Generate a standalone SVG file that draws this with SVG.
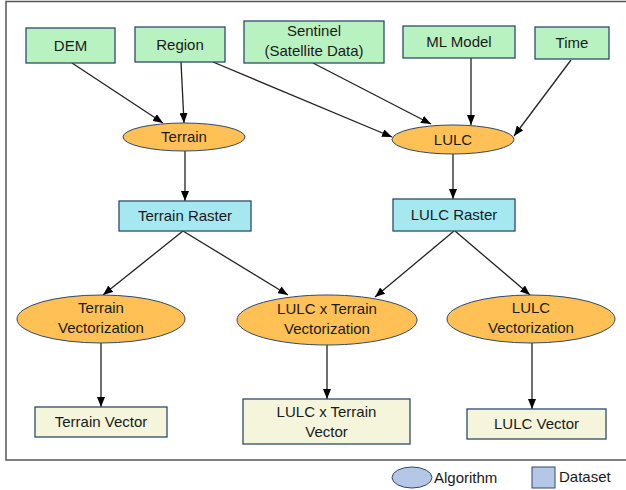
<svg xmlns="http://www.w3.org/2000/svg" width="626" height="490" viewBox="0 0 626 490">
<defs>
<marker id="ah" markerWidth="10" markerHeight="8" refX="10" refY="4" orient="auto" markerUnits="userSpaceOnUse">
<path d="M0,0 L10,4 L0,8 Z" fill="#000"/>
</marker>
<style>
text{font-family:"Liberation Sans",Arial,sans-serif;font-size:15px;fill:#1a1a1a;text-anchor:middle}
.in{fill:#B9F2C1;stroke:#2F4A6E;stroke-width:1.3}
.alg{fill:#FFC155;stroke:#2F4A6E;stroke-width:1}
.ras{fill:#A6E8F0;stroke:#2F4A6E;stroke-width:1.3}
.vec{fill:#F5F5DC;stroke:#2F4A6E;stroke-width:1.3}
.leg{fill:#B4C7E7;stroke:#2F4A6E;stroke-width:1}
.c line{stroke:#222;stroke-width:1.3;marker-end:url(#ah)}
</style>
</defs>
<rect width="626" height="490" fill="#fff"/>
<path d="M628,1.5 H6 V460 H628" fill="none" stroke="#555" stroke-width="1.5"/>
<g class="c" id="connectors">
<line x1="72" y1="63" x2="163" y2="123"/>
<line x1="181" y1="62" x2="184" y2="123"/>
<line x1="213" y1="62" x2="392" y2="137"/>
<line x1="313" y1="63" x2="431" y2="124"/>
<line x1="471" y1="58" x2="471" y2="125"/>
<line x1="571" y1="60" x2="514" y2="136"/>
<line x1="185" y1="151" x2="185" y2="201"/>
<line x1="453" y1="154" x2="453" y2="199"/>
<line x1="183" y1="231" x2="103" y2="295"/>
<line x1="183" y1="231" x2="288" y2="295"/>
<line x1="454" y1="231" x2="375" y2="297"/>
<line x1="455" y1="231" x2="530" y2="295"/>
<line x1="101" y1="343" x2="101" y2="407"/>
<line x1="327" y1="345" x2="327" y2="399"/>
<line x1="532" y1="343" x2="532" y2="409"/>
</g>
<g id="dem"><rect class="in" x="26" y="28" width="89" height="35"/><text x="70.5" y="50.5">DEM</text></g>
<g id="region"><rect class="in" x="135" y="27" width="90" height="35"/><text x="180" y="49.5">Region</text></g>
<g id="sentinel"><rect class="in" x="244" y="21" width="140" height="42"/><text x="314" y="36">Sentinel</text><text x="314" y="56">(Satellite Data)</text></g>
<g id="mlmodel"><rect class="in" x="403" y="26" width="112" height="32"/><text x="459" y="47">ML Model</text></g>
<g id="time"><rect class="in" x="535" y="27" width="74" height="32"/><text x="572" y="48">Time</text></g>
<g id="terrain"><ellipse class="alg" cx="184" cy="137" rx="61" ry="14"/><text x="184" y="142">Terrain</text></g>
<g id="lulc"><ellipse class="alg" cx="453" cy="139.5" rx="61" ry="14.5"/><text x="453" y="144.5">LULC</text></g>
<g id="terrainraster"><rect class="ras" x="119" y="201" width="132" height="30"/><text x="185" y="221">Terrain Raster</text></g>
<g id="lulcraster"><rect class="ras" x="393" y="199" width="122" height="32"/><text x="454" y="220">LULC Raster</text></g>
<g id="terrainvectorization"><ellipse class="alg" cx="101" cy="319" rx="84" ry="24"/><text x="101" y="313">Terrain</text><text x="101" y="333">Vectorization</text></g>
<g id="lulcxterrainvectorization"><ellipse class="alg" cx="327" cy="320" rx="90" ry="25"/><text x="327" y="314">LULC x Terrain</text><text x="327" y="334">Vectorization</text></g>
<g id="lulcvectorization"><ellipse class="alg" cx="531" cy="319" rx="84" ry="24"/><text x="531" y="313">LULC</text><text x="531" y="333">Vectorization</text></g>
<g id="terrainvector"><rect class="vec" x="35" y="407" width="132" height="30"/><text x="101" y="427">Terrain Vector</text></g>
<g id="lulcxterrainvector"><rect class="vec" x="243" y="399" width="167" height="45"/><text x="326.5" y="417">LULC x Terrain</text><text x="326.5" y="437">Vector</text></g>
<g id="lulcvector"><rect class="vec" x="467" y="409" width="139" height="30"/><text x="536.5" y="429">LULC Vector</text></g>
<g id="legend">
<ellipse class="leg" cx="412" cy="477.5" rx="20" ry="10.5"/>
<text x="434" y="483" style="text-anchor:start">Algorithm</text>
<rect class="leg" x="532" y="467" width="23" height="21"/>
<text x="559" y="482" style="text-anchor:start">Dataset</text>
</g>
</svg>
